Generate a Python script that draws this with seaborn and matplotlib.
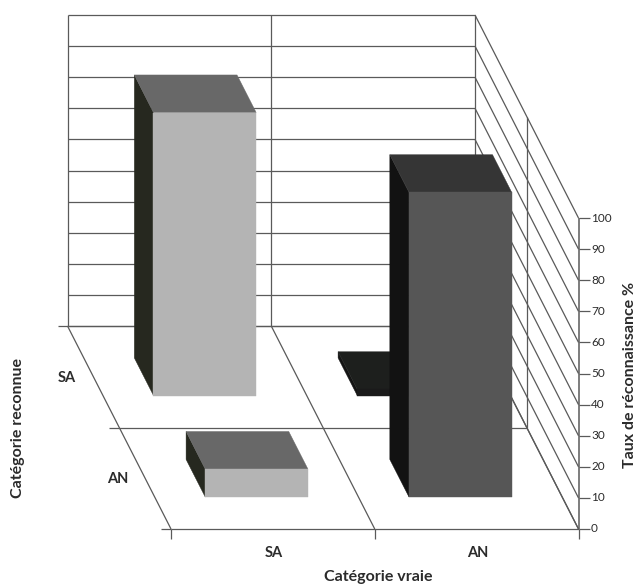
import matplotlib
matplotlib.use("Agg")
import matplotlib.pyplot as plt
import seaborn as sns
from matplotlib.patches import Polygon

# --- data ---
true_categories = ["SA", "AN"]
recognised_categories = ["SA", "AN"]
rate_true_SA = [91, 9]   # recognised as SA, AN
rate_true_AN = [2, 98]   # recognised as SA, AN
z_ticks = [0, 10, 20, 30, 40, 50, 60, 70, 80, 90, 100]

# --- style ---
sns.set_theme(style="white")
plt.rcParams["font.family"] = ["Lato", "DejaVu Sans"]
LINE = "#5a5a5a"
TXT = "#2b2b2b"
LIGHT = dict(front="#b4b4b4", side="#26281f", top="#686868")
DARK = dict(front="#565656", side="#121212", top="#353535")
PLATE = dict(front="#1a1a1a", side="#141414", top="#1d1f1d")
W, H = 636, 584

fig = plt.figure(figsize=(W / 100, H / 100), dpi=100)
ax = fig.add_axes([0, 0, 1, 1])
ax.set_xlim(0, W)
ax.set_ylim(H, 0)
ax.axis("off")

# oblique projection: u across (0..1), d depth from back to front (0..1), z height (0..100)
X0, Y0 = 67.5, 326.0
WIDTH, DX, DY, ZH = 407.5, 103.5, 203.0, 311.0


def proj(u, d, z=0.0):
    return (X0 + WIDTH * u + DX * d, Y0 + DY * d - ZH * z / 100)


def seg(a, b, lw=0.9, color=LINE, off=(0, 0), z=3):
    ax.plot([a[0], b[0] + off[0]], [a[1], b[1] + off[1]], color=color, lw=lw, zorder=z,
            solid_capstyle="butt")


# back wall and right wall grid
for t in z_ticks:
    seg(proj(0, 0, t), proj(1, 0, t))
    seg(proj(1, 0, t), proj(1, 1, t))
    seg(proj(1, 1, t), proj(1, 1, t), off=(11, 0))
    xt, yt = proj(1, 1, t)
    ax.text(xt + 12.5, yt, str(t), fontsize=8.5, color=TXT, va="center", ha="left")
for u in (0, 0.5, 1):
    seg(proj(u, 0, 0), proj(u, 0, 100))
    seg(proj(u, 0, 0), proj(u, 1, 0))
    seg(proj(u, 1, 0), proj(u, 1, 0), off=(0, 10))
seg(proj(1, 0.5, 0), proj(1, 0.5, 100))
seg(proj(1, 1, 0), proj(1, 1, 100), lw=1.1)
for d in (0, 0.5, 1):
    seg(proj(0, d, 0), proj(1, d, 0))
    seg(proj(0, d, 0), proj(0, d, 0), off=(-10, 0))

# bars
BAR_W, BAR_D = 0.252, 0.185


def bar(ui, di, value, pal):
    uc, dc = 0.25 + 0.5 * ui, 0.25 + 0.5 * di
    u0, u1 = uc - BAR_W / 2, uc + BAR_W / 2
    d0, d1 = dc - BAR_D / 2, dc + BAR_D / 2
    faces = [
        ([proj(u0, d0, 0), proj(u0, d1, 0), proj(u0, d1, value), proj(u0, d0, value)], pal["side"]),
        ([proj(u0, d0, value), proj(u1, d0, value), proj(u1, d1, value), proj(u0, d1, value)], pal["top"]),
        ([proj(u0, d1, 0), proj(u1, d1, 0), proj(u1, d1, value), proj(u0, d1, value)], pal["front"]),
    ]
    for pts, c in faces:
        ax.add_patch(Polygon(pts, closed=True, facecolor=c, edgecolor=c, lw=0.3, zorder=5))


bar(0, 0, rate_true_SA[0], LIGHT)
bar(1, 0, rate_true_AN[0], PLATE)
bar(0, 1, rate_true_SA[1], LIGHT)
bar(1, 1, rate_true_AN[1], DARK)

# category labels
for i, name in enumerate(true_categories):
    x, y = proj(0.25 + 0.5 * i, 1, 0)
    ax.text(x + 1, y + 24, name, fontsize=10.5, color=TXT, ha="center", va="center", weight="bold")
for i, name in enumerate(recognised_categories):
    x, y = proj(0, 0.25 + 0.5 * i, 0)
    ax.text(x - 27, y + 1, name, fontsize=10.5, color=TXT, ha="center", va="center", weight="bold")

ax.text(378, 577, "Catégorie vraie", fontsize=11.5, color=TXT, ha="center", va="center", weight="bold")
ax.text(18, 428, "Catégorie reconnue", fontsize=11.5, color=TXT, ha="center", va="center",
        rotation=90, weight="bold")
ax.text(630, 375, "Taux de réconnaissance %", fontsize=11.5, color=TXT, ha="center", va="center",
        rotation=90, weight="bold")

fig.savefig("out.png", dpi=100, facecolor="white")
